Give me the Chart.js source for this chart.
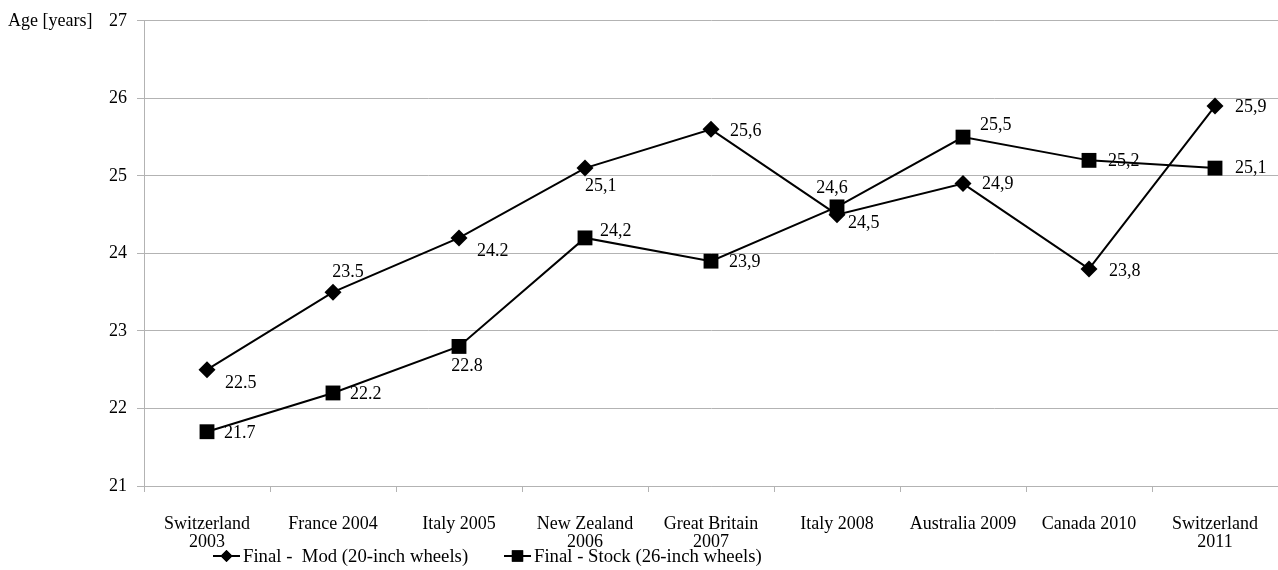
<!DOCTYPE html>
<html>
<head>
<meta charset="utf-8">
<title>Age of finalists</title>
<script src="https://cdn.jsdelivr.net/npm/chart.js@4/dist/chart.umd.min.js"></script>
<style>
  html, body { margin: 0; padding: 0; background: #fff; }
  #wrap { width: 1278px; height: 570px; }
</style>
</head>
<body>
<div id="wrap"><canvas id="chart" width="1278" height="570"></canvas></div>
<script>
// Categories (championship venue and year)
const categories = [
  ['Switzerland', '2003'], 'France 2004', 'Italy 2005', ['New Zealand', '2006'],
  ['Great Britain', '2007'], 'Italy 2008', 'Australia 2009', 'Canada 2010', ['Switzerland', '2011']
];

// Mean age of finalists [years]
const modValues   = [22.5, 23.5, 24.2, 25.1, 25.6, 24.5, 24.9, 23.8, 25.9];
const stockValues = [21.7, 22.2, 22.8, 24.2, 23.9, 24.6, 25.5, 25.2, 25.1];

// Decimal mark used in each printed value
const modDecimalMarks   = ['.', '.', '.', ',', ',', ',', ',', ',', ','];
const stockDecimalMarks = ['.', '.', '.', ',', ',', ',', ',', ',', ','];

// Y axis ticks
const yTicks = [21, 22, 23, 24, 25, 26, 27];

const seriesNames = ['Final -  Mod (20-inch wheels)', 'Final - Stock (26-inch wheels)'];

// Label placement relative to each point: [dx, dy, textAlign]
const modLabelPos = [
  [18, 14, 'left'], [15, -20, 'center'], [18, 13, 'left'], [0, 18, 'left'], [19, 2, 'left'],
  [11, 9, 'left'], [19, 1, 'left'], [20, 2, 'left'], [20, 1, 'left']
];
const stockLabelPos = [
  [17, 2, 'left'], [17, 1, 'left'], [8, 20, 'center'], [15, -7, 'left'], [18, 1, 'left'],
  [-5, -19, 'center'], [17, -12, 'left'], [19, 1, 'left'], [20, 0, 'left']
];

const FONT = '"Liberation Serif", "Times New Roman", serif';
const GRID = '#b3b3b3';

function fmt(v, mark) {
  return v.toFixed(1).replace('.', mark);
}

// Draws the value next to every point
const valueLabels = {
  id: 'valueLabels',
  afterDatasetsDraw(chart) {
    const ctx = chart.ctx;
    ctx.save();
    ctx.font = '18px ' + FONT;
    ctx.fillStyle = '#000';
    ctx.textBaseline = 'middle';
    const sets = [[modValues, modDecimalMarks, modLabelPos], [stockValues, stockDecimalMarks, stockLabelPos]];
    sets.forEach(([vals, marks, pos], di) => {
      const meta = chart.getDatasetMeta(di);
      meta.data.forEach((pt, i) => {
        const [dx, dy, align] = pos[i];
        ctx.textAlign = align;
        ctx.fillText(fmt(vals[i], marks[i]), pt.x + dx, pt.y + dy);
      });
    });
    ctx.restore();
  }
};

// Axis caption beside the top tick, and the line-with-marker legend
const extras = {
  id: 'extras',
  afterDraw(chart) {
    const ctx = chart.ctx;
    const y = chart.scales.y;
    ctx.save();
    ctx.font = '18px ' + FONT;
    ctx.fillStyle = '#000';
    ctx.textBaseline = 'middle';
    ctx.textAlign = 'left';
    ctx.fillText('Age [years]', 8, y.getPixelForValue(yTicks[yTicks.length - 1]));

    const ly = 556;
    const items = [
      { x: 213, ds: 0, r: 6 },
      { x: 504, ds: 1, r: 8 }
    ];
    items.forEach((it, i) => {
      const dsOpts = chart.data.datasets[it.ds];
      ctx.strokeStyle = '#000';
      ctx.lineWidth = 2;
      ctx.beginPath();
      ctx.moveTo(it.x, ly);
      ctx.lineTo(it.x + 27, ly);
      ctx.stroke();
      ctx.fillStyle = '#000';
      ctx.beginPath();
      Chart.helpers.drawPoint(ctx, { pointStyle: dsOpts.pointStyle, rotation: 0, radius: it.r, borderWidth: 0 }, it.x + 13.5, ly);
      ctx.fill();
      ctx.save();
      ctx.translate(it.x + 30, ly + 1);
      ctx.scale(1.04, 1);
      ctx.fillText(seriesNames[i], 0, 0);
      ctx.restore();
    });
    ctx.restore();
  }
};

new Chart(document.getElementById('chart'), {
  type: 'line',
  data: {
    labels: categories,
    datasets: [
      {
        label: seriesNames[0],
        data: modValues,
        order: 1,
        borderColor: '#000',
        backgroundColor: '#000',
        borderWidth: 2,
        pointStyle: 'rectRot',
        pointRadius: 8.5,
        pointHoverRadius: 8.5,
        pointBorderWidth: 0,
        tension: 0,
        clip: false
      },
      {
        label: seriesNames[1],
        data: stockValues,
        order: 0,
        borderColor: '#000',
        backgroundColor: '#000',
        borderWidth: 2,
        pointStyle: 'rect',
        pointRadius: 10.5,
        pointHoverRadius: 10.5,
        pointBorderWidth: 0,
        tension: 0,
        clip: false
      }
    ]
  },
  options: {
    responsive: false,
    animation: false,
    events: [],
    layout: { autoPadding: false, padding: { top: 19, right: 0, bottom: 0, left: 0 } },
    plugins: {
      legend: { display: false },
      tooltip: { enabled: false }
    },
    scales: {
      x: {
        offset: true,
        grid: {
          offset: true,
          drawOnChartArea: false,
          drawTicks: true,
          tickLength: 6,
          color: GRID
        },
        border: { display: true, color: GRID, width: 1 },
        ticks: {
          color: '#000',
          font: { family: FONT, size: 18, lineHeight: 1.0 },
          padding: 23,
          maxRotation: 0,
          autoSkip: false
        },
        afterFit(scale) {
          scale.height = 84;
          scale.paddingLeft = 0;
          scale.paddingRight = 0;
        }
      },
      y: {
        min: yTicks[0],
        max: yTicks[yTicks.length - 1],
        afterBuildTicks(scale) { scale.ticks = yTicks.map(v => ({ value: v })); },
        grid: { color: GRID, tickLength: 7, lineWidth: 1 },
        border: { display: true, color: GRID, width: 1 },
        ticks: {
          color: '#000',
          font: { family: FONT, size: 18 },
          padding: 10
        },
        afterFit(scale) { scale.width = 144; }
      }
    }
  },
  plugins: [valueLabels, extras]
});
</script>
</body>
</html>
